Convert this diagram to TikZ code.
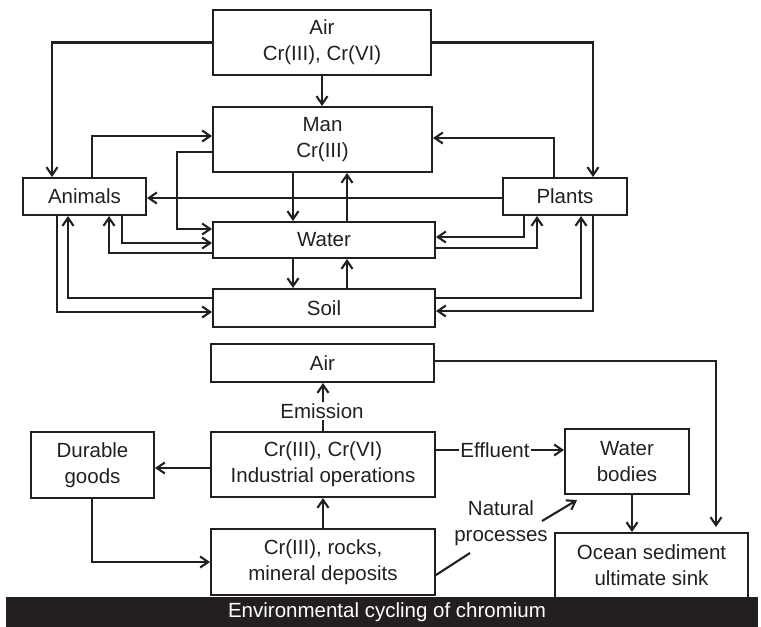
\documentclass[tikz,border=0pt]{standalone}
\usepackage{fontspec}
\setmainfont{Liberation Sans}
\usetikzlibrary{arrows.meta}
\definecolor{ink}{HTML}{231F20}
\begin{document}
\begin{tikzpicture}[x=1pt,y=-1pt,
  box/.style={draw=ink, line width=2pt, inner sep=0pt, align=center, text=ink, font=\fontsize{20.5}{26}\selectfont},
  arr/.style={draw=ink, line width=2.1pt, -{Straight Barb[length=8pt,width=11pt,line width=2.1pt]}},
  ln/.style={draw=ink, line width=2.1pt},
  lab/.style={text=ink, font=\fontsize{20.5}{26}\selectfont, align=center, inner sep=1pt, fill=white}]
\useasboundingbox (0,0) rectangle (761,627);
% top cycle
\node[box, minimum width=218pt, minimum height=65pt] (airT) at (322,42.5) {Air\\Cr(III), Cr(VI)};
\node[box, minimum width=219pt, minimum height=65pt] (man) at (322.5,139.5) {Man\\Cr(III)};
\node[box, minimum width=123pt, minimum height=37pt] (animals) at (84.5,196.5) {Animals};
\node[box, minimum width=124pt, minimum height=37pt] (plants) at (565,196.5) {Plants};
\node[box, minimum width=222pt, minimum height=36pt] (water) at (324,240) {Water};
\node[box, minimum width=222pt, minimum height=38pt] (soil) at (324,308) {Soil};
% bottom cycle
\node[box, minimum width=223pt, minimum height=38pt] (airB) at (322.5,363) {Air};
\node[box, minimum width=224pt, minimum height=65pt] (ind) at (323,464.5) {Cr(III), Cr(VI)\\Industrial operations};
\node[box, minimum width=123pt, minimum height=66pt] (dur) at (92.5,465) {Durable\\goods};
\node[box, minimum width=224pt, minimum height=66pt] (rocks) at (323,562) {Cr(III), rocks,\\mineral deposits};
\node[box, minimum width=124pt, minimum height=65pt] (wb) at (627,461.5) {Water\\bodies};
\node[box, minimum width=193pt, minimum height=65pt] (ocean) at (651.5,565.5) {Ocean sediment\\ultimate sink};

% top connectors
\draw[arr] (airT.west) -| (animals.north -| 52,0);
\draw[arr] (airT.east) -| (plants.north -| 593,0);
\draw[arr] (airT.south) -- (man.north -| airT.south);
\draw[arr] (animals.north -| 92,0) |- (man.west |- 0,136);
\draw[arr] (plants.north -| 554,0) |- (man.east |- 0,138);
\draw[arr] (man.west |- 0,152) -- ++(-35,0) |- (water.west |- 0,229);
\draw[arr] (man.south -| 293,0) -- (water.north -| 293,0);
\draw[arr] (water.north -| 347,0) -- (man.south -| 347,0);
\draw[arr] (plants.west |- 0,198) -- (animals.east |- 0,198);
\draw[arr] (animals.south -| 122,0) |- (water.west |- 0,243);
\draw[arr] (water.west |- 0,253) -| (animals.south -| 109,0);
\draw[arr] (water.south -| 293,0) -- (soil.north -| 293,0);
\draw[arr] (soil.north -| 347,0) -- (water.south -| 347,0);
\draw[arr] (soil.west |- 0,298) -| (animals.south -| 68,0);
\draw[arr] (animals.south -| 57,0) |- (soil.west |- 0,312);
\draw[arr] (plants.south -| 524,0) |- (water.east |- 0,237);
\draw[arr] (water.east |- 0,248) -| (plants.south -| 537,0);
\draw[arr] (soil.east |- 0,298) -| (plants.south -| 581,0);
\draw[arr] (plants.south -| 593,0) |- (soil.east |- 0,311);

% bottom connectors
\draw[arr] (ind.north -| 323,0) -- (airB.south -| 323,0);
\node[lab] (emis) at (322,411) {Emission};
\draw[arr] (ind.west |- 0,468) -- (dur.east |- 0,468);
\draw[arr] (dur.south -| 92,0) |- (rocks.west |- 0,562);
\draw[arr] (rocks.north -| 323,0) -- (ind.south -| 323,0);
\draw[arr] (ind.east |- 0,450) -- (wb.west |- 0,450);
\node[lab] (eff) at (495,450) {Effluent};
\draw[arr] (wb.south -| 632,0) -- (ocean.north -| 632,0);
\draw[arr, shorten >=5pt] (airB.east |- 0,361) -| (ocean.north -| 716,0);
\node[lab, fill=none] (nat) at (501,523) {Natural\\processes};
\coordinate (natA) at (470,553);
\coordinate (natB) at (542,521);
\coordinate (natC) at (577,500);
\draw[ln] (rocks.east |- 0,575) -- (natA);
\draw[arr] (natB) -- (natC);

% caption bar
\fill[ink] (6,597) rectangle (758,627);
\node[text=white, font=\fontsize{20.5}{26}\selectfont, inner sep=0pt] (cap) at (387,612) {Environmental cycling of chromium};
\end{tikzpicture}
\end{document}
